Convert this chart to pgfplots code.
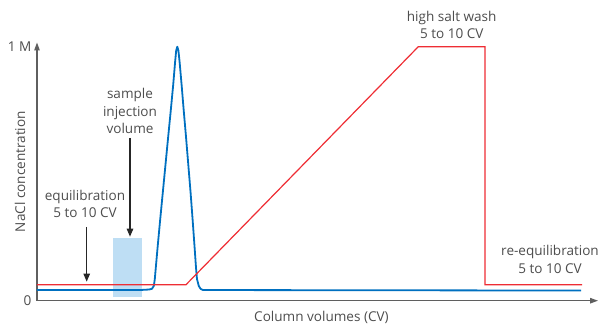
\documentclass[border=0pt]{standalone}
\usepackage{fontspec}
\setmainfont{Open Sans}
\usepackage{pgfplots}
\pgfplotsset{compat=1.18}
\usetikzlibrary{arrows.meta}
\definecolor{gblue}{RGB}{0,112,192}
\definecolor{gred}{RGB}{238,45,52}
\definecolor{lblue}{RGB}{190,222,244}
\definecolor{txt}{RGB}{77,77,77}
\definecolor{axgray}{RGB}{95,95,95}
\newcommand{\tf}{\fontsize{13.6}{17.4}\selectfont}
\begin{document}
\begin{tikzpicture}
\begin{axis}[
  at={(37bp,24.3bp)}, anchor=south west,
  scale only axis, width=561bp, height=258.2bp,
  xmin=0, xmax=561, ymin=0, ymax=1.0165,
  axis lines=left,
  axis line style={draw=axgray, line width=1.2bp},
  x axis line style={-{Triangle[length=8bp,width=5.5bp]}},
  y axis line style={-{Triangle[length=8bp,width=5.5bp]}},
  xtick=\empty, ytick={0,1}, yticklabels={0,1 M},
  major tick length=0pt,
  yticklabel style={font=\tf, text=txt, xshift=-2bp},
  ylabel={NaCl concentration},
  ylabel style={font=\tf, text=txt, at={(axis description cs:-0.0303,0.5)}, anchor=center},
  xlabel={Column volumes (CV)},
  xlabel style={font=\tf, text=txt, at={(axis description cs:0.507,-0.0658)}, anchor=center},
  clip=false,
]
\addplot[fill=lblue, draw=none] coordinates {(76,0.015) (105,0.015) (105,0.248) (76,0.248)} -- cycle;
\addplot[gblue, line width=1.8bp, line join=round] coordinates {
 (0,0.042) (103,0.042) (112,0.044) (115,0.047) (116.8,0.058) (117.8,0.085) (118.8,0.13)
 (120.6,0.21) (123.2,0.32) (125.9,0.43) (128.6,0.54) (131.3,0.65) (133.8,0.75)
 (136.2,0.85) (138.1,0.94) (139.2,0.985) (140.3,1.0) (141.4,0.985) (142.6,0.94)
 (144.6,0.85) (146.7,0.75) (148.9,0.65) (151.2,0.54) (153.5,0.43) (155.6,0.32)
 (157.6,0.21) (159,0.13) (160,0.085) (161.8,0.058) (163.5,0.047) (166,0.042) (544,0.040)};
\addplot[gred, line width=1.2bp] coordinates {
 (0,0.063) (149,0.063) (381.3,1.0) (448,1.0) (448,0.063) (545,0.063)};
\draw[-{Triangle[length=8bp,width=6.5bp]}, line width=1.2bp, black!85] (axis cs:49.7,0.291) -- (axis cs:49.7,0.075);
\draw[-{Triangle[length=8bp,width=6.5bp]}, line width=1.2bp, black!85] (axis cs:93,0.641) -- (axis cs:93,0.252);
\node[font=\tf, text=txt, align=center] at (axis cs:48,0.38) {equilibration\\5 to 10 CV};
\node[font=\tf, text=txt, align=center] at (axis cs:93,0.747) {sample\\injection\\volume};
\node[font=\tf, text=txt, align=center] at (axis cs:414.7,1.087) {high salt wash\\5 to 10 CV};
\node[font=\tf, text=txt, align=center] at (axis cs:513,0.162) {re-equilibration\\5 to 10 CV};
\end{axis}
\pgfresetboundingbox
\path[use as bounding box] (0,0) rectangle (598bp,325bp);
\end{tikzpicture}
\end{document}
